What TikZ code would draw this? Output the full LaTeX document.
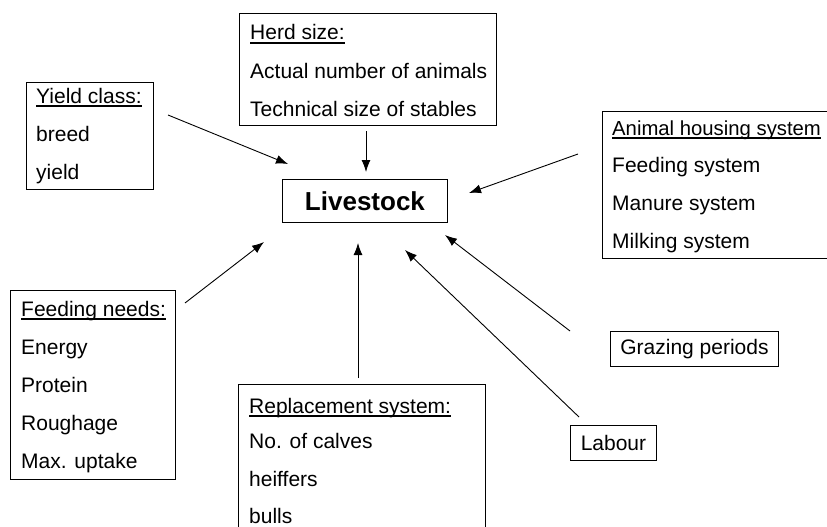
\documentclass[tikz,border=0pt]{standalone}
\usepackage{fontspec}
\setmainfont{Liberation Sans}
\usetikzlibrary{arrows.meta}
\tikzset{
  box/.style={draw=black, line width=0.9pt, inner sep=0pt, anchor=north west},
  txt/.style={anchor=base west, inner sep=0pt, font=\fontsize{21}{25}\selectfont},
  ctxt/.style={anchor=center, inner sep=0pt, font=\fontsize{21}{25}\selectfont},
  ul/.style={line width=1.2pt},
  arr/.style={line width=0.9pt, -{Latex[length=12pt,width=9pt]}}
}
\begin{document}
\begin{tikzpicture}[x=1pt,y=-1pt]
\useasboundingbox (0,0) rectangle (827,527);
% boxes
\node[box, minimum width=127pt, minimum height=107pt] (yb) at (26,82) {};
\node[box, minimum width=257pt, minimum height=112pt] (hb) at (239,13) {};
\node[box, minimum width=240pt, minimum height=147pt] (ab) at (602,111) {};
\node[box, minimum width=165pt, minimum height=43pt] (lb) at (282,179) {};
\node[box, minimum width=165pt, minimum height=189pt] (fb) at (10,290) {};
\node[box, minimum width=247pt, minimum height=160pt] (rb) at (238,384) {};
\node[box, minimum width=168pt, minimum height=35pt] (gb) at (610,331) {};
\node[box, minimum width=86pt, minimum height=35pt] (lab) at (570,425) {};
% livestock
\node[anchor=center, inner sep=0pt, font=\fontsize{26}{30}\selectfont\bfseries] (live) at (lb.center) {Livestock};
% yield class
\node[txt] (y1) at (36,103) {Yield class:};
\node[txt] (y2) at (36,141) {breed};
\node[txt] (y3) at (36,179) {yield};
\draw[ul] ([yshift=-3pt]y1.base west) -- ([yshift=-3pt]y1.base east);
% herd size
\node[txt] (h1) at (250,40) {Herd size:};
\node[txt] (h2) at (250,78) {Actual number of animals};
\node[txt] (h3) at (250,116) {Technical size of stables};
\draw[ul] ([yshift=-3pt]h1.base west) -- ([yshift=-3pt]h1.base east);
% animal housing
\node[txt, font=\fontsize{20.3}{24}\selectfont] (a1) at (612,135) {Animal housing system};
\node[txt] (a2) at (612,172) {Feeding system};
\node[txt] (a3) at (612,210) {Manure system};
\node[txt] (a4) at (612,248) {Milking system};
\draw[ul] ([yshift=-3pt]a1.base west) -- ([yshift=-3pt]a1.base east);
% feeding needs
\node[txt] (f1) at (21,316) {Feeding needs:};
\node[txt] (f2) at (21,354) {Energy};
\node[txt] (f3) at (21,392) {Protein};
\node[txt] (f4) at (21,430) {Roughage};
\node[txt] (f5) at (21,468) {Max. uptake};
\draw[ul] ([yshift=-3pt]f1.base west) -- ([yshift=-3pt]f1.base east);
% replacement
\node[txt] (r1) at (249,413) {Replacement system:};
\node[txt] (r2) at (249,448) {No. of calves};
\node[txt] (r3) at (249,486) {heiffers};
\node[txt] (r4) at (249,523) {bulls};
\draw[ul] ([yshift=-3pt]r1.base west) -- ([yshift=-3pt]r1.base east);
% single boxes
\node[ctxt] (g1) at (gb.center) {Grazing periods};
\node[ctxt] (l1) at (lab.center) {Labour};
% arrow coordinates
\coordinate (s1) at (168,115); \coordinate (e1) at (288,164);
\coordinate (s2) at (366,131); \coordinate (e2) at (366,172);
\coordinate (s3) at (578,154); \coordinate (e3) at (469,193);
\coordinate (s4) at (185,303); \coordinate (e4) at (264,242);
\coordinate (s5) at (358,378); \coordinate (e5) at (358,243);
\coordinate (s6) at (579,417); \coordinate (e6) at (405,250);
\coordinate (s7) at (570,331); \coordinate (e7) at (445,235);
\draw[arr] (s1) -- (e1);
\draw[arr] (s2) -- (e2);
\draw[arr] (s3) -- (e3);
\draw[arr] (s4) -- (e4);
\draw[arr] (s5) -- (e5);
\draw[arr] (s6) -- (e6);
\draw[arr] (s7) -- (e7);
\end{tikzpicture}
\end{document}
